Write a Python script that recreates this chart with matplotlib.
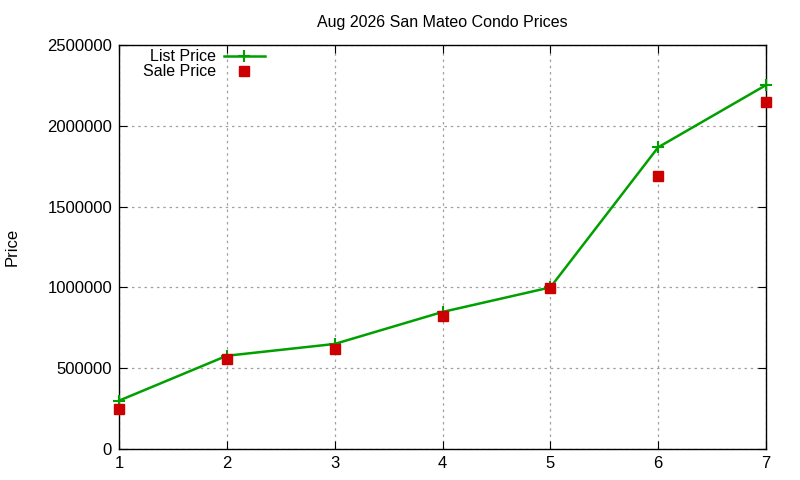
import matplotlib.pyplot as plt
import numpy as np

plt.rcParams['font.family'] = ['Liberation Sans', 'DejaVu Sans']

# data
bedrooms = [1, 2, 3, 4, 5, 6, 7]
list_price = [299000, 577000, 650000, 848000, 1000000, 1867000, 2252000]
sale_price = [249000, 559000, 621000, 825000, 999000, 1691000, 2147000]

fig = plt.figure(figsize=(8, 4.8), dpi=100)
ax = fig.add_axes([119/800, 31/480, 647/800, 404/480])

ax.plot(bedrooms, list_price, color='#00a000', lw=1.8, marker='+', ms=8, mew=1.5,
        label='List Price', clip_on=False, zorder=3)
ax.plot(bedrooms, sale_price, ls='none', marker='s', ms=6.5, color='#cc0000',
        label='Sale Price', clip_on=False, zorder=4)

ax.set_xlim(1, 7)
ax.set_ylim(0, 2500000)
ax.set_xticks(bedrooms)
ax.set_yticks(np.arange(0, 2500001, 500000))
ax.ticklabel_format(axis='y', style='plain', useOffset=False)
ax.tick_params(direction='in', top=True, right=True, length=6, labelsize=12, pad=5)
ax.grid(True, color='#a0a0a0', ls=(0, (2, 3)), lw=0.9)
for s in ax.spines.values():
    s.set_linewidth(1.0)

ax.set_title('Aug 2026 San Mateo Condo Prices', fontsize=11.5, pad=13)
ax.set_ylabel('Price', fontsize=12, labelpad=20)

ax.legend(loc='upper left', bbox_to_anchor=(0.034, 0.993), frameon=False, markerfirst=False,
          fontsize=11.5, handlelength=2.6, handletextpad=0.5, borderaxespad=0.0,
          labelspacing=0.0, borderpad=0.1)

fig.savefig('out.png', dpi=100)
